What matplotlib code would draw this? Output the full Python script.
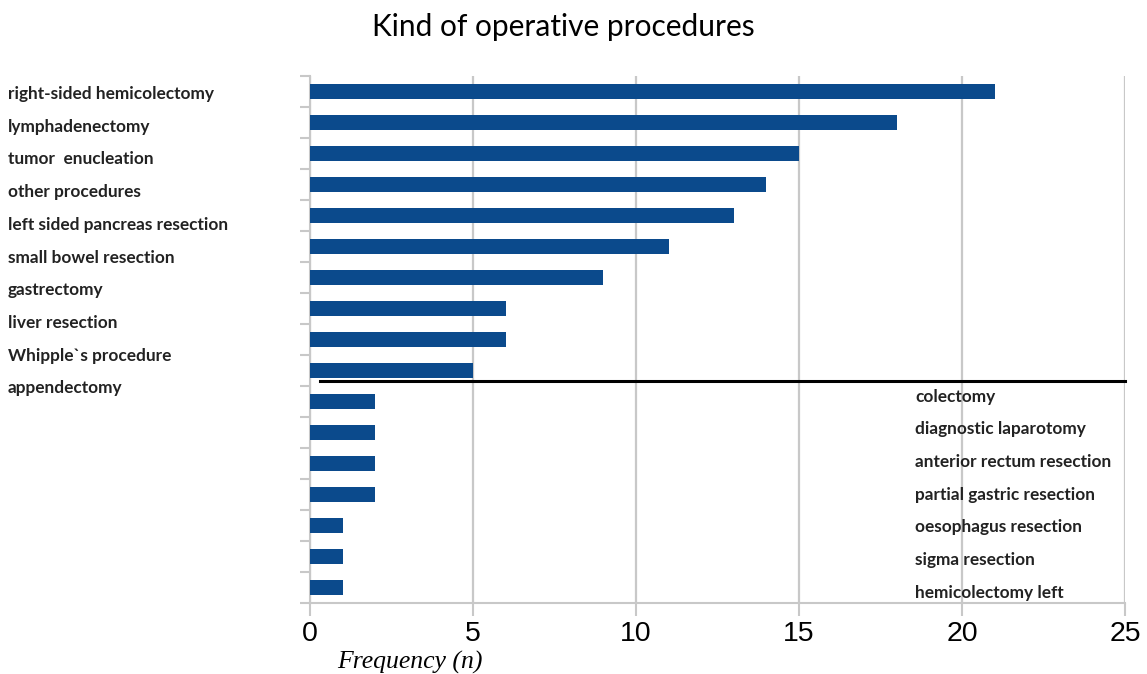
import matplotlib.pyplot as plt
import matplotlib.transforms as mtransforms
import numpy as np

title = "Kind of operative procedures"
procedures = ["right-sided hemicolectomy", "lymphadenectomy", "tumor  enucleation",
              "other procedures", "left sided pancreas resection", "small bowel resection",
              "gastrectomy", "liver resection", "Whipple`s procedure", "appendectomy",
              "colectomy", "diagnostic laparotomy", "anterior rectum resection",
              "partial gastric resection", "oesophagus resection", "sigma resection",
              "hemicolectomy left"]
counts = [21, 18, 15, 14, 13, 11, 9, 6, 6, 5, 2, 2, 2, 2, 1, 1, 1]
n_left = 10          # labels listed on the left, the rest inside the plot
xticks = [0, 5, 10, 15, 20, 25]

bar_col = '#0b4a8c'
grid_col = '#c8c8c8'

fig = plt.figure(figsize=(11.47, 6.74), dpi=100)
ax = fig.add_axes([310 / 1147, 1 - 603 / 674, 815 / 1147, 527 / 674])

pos = np.arange(len(procedures))
ax.barh(pos, counts, height=0.5, color=bar_col, zorder=3)

ax.set_xlim(0, 25)
ax.set_ylim(len(procedures) - 0.5, -0.5)
ax.set_xticks(xticks)
ax.set_xticklabels([str(t) for t in xticks], family='Liberation Sans', fontsize=20.5)
ax.set_yticks(np.arange(len(procedures) + 1) - 0.5)
ax.set_yticklabels([])
ax.tick_params(axis='x', length=9, width=1.5, color=grid_col, pad=4)
ax.tick_params(axis='y', length=7, width=1.5, color=grid_col)
ax.xaxis.grid(True, color=grid_col, lw=1.6, zorder=0)

for s in ['top', 'right']:
    ax.spines[s].set_visible(False)
for s in ['left', 'bottom']:
    ax.spines[s].set_color(grid_col)
    ax.spines[s].set_linewidth(1.5)

# separator between the two label groups
ax.plot([0.3, 25], [9.35, 9.35], color='black', lw=2.2, zorder=4, clip_on=False)

lab_font = dict(family='Lato', fontweight='bold', fontsize=12.4, color='#222222')
left_tr = mtransforms.blended_transform_factory(fig.transFigure, ax.transData)
for i in range(n_left):
    ax.text(8 / 1147, 0.08 + i * 1.055, procedures[i], transform=left_tr,
            ha='left', va='center', **lab_font)
for i in range(n_left, len(procedures)):
    ax.text(18.57, 9.84 + (i - n_left) * 1.055, procedures[i],
            ha='left', va='center', zorder=5, **lab_font)

fig.text(563 / 1147, 1 - 27 / 674, title, family='Lato', fontsize=21.5,
         ha='center', va='center')
fig.text(410 / 1147, 1 - 662 / 674, "Frequency (n)", family='Liberation Serif',
         style='italic', fontsize=18.5, ha='center', va='center')

fig.savefig('out.png', dpi=100)
